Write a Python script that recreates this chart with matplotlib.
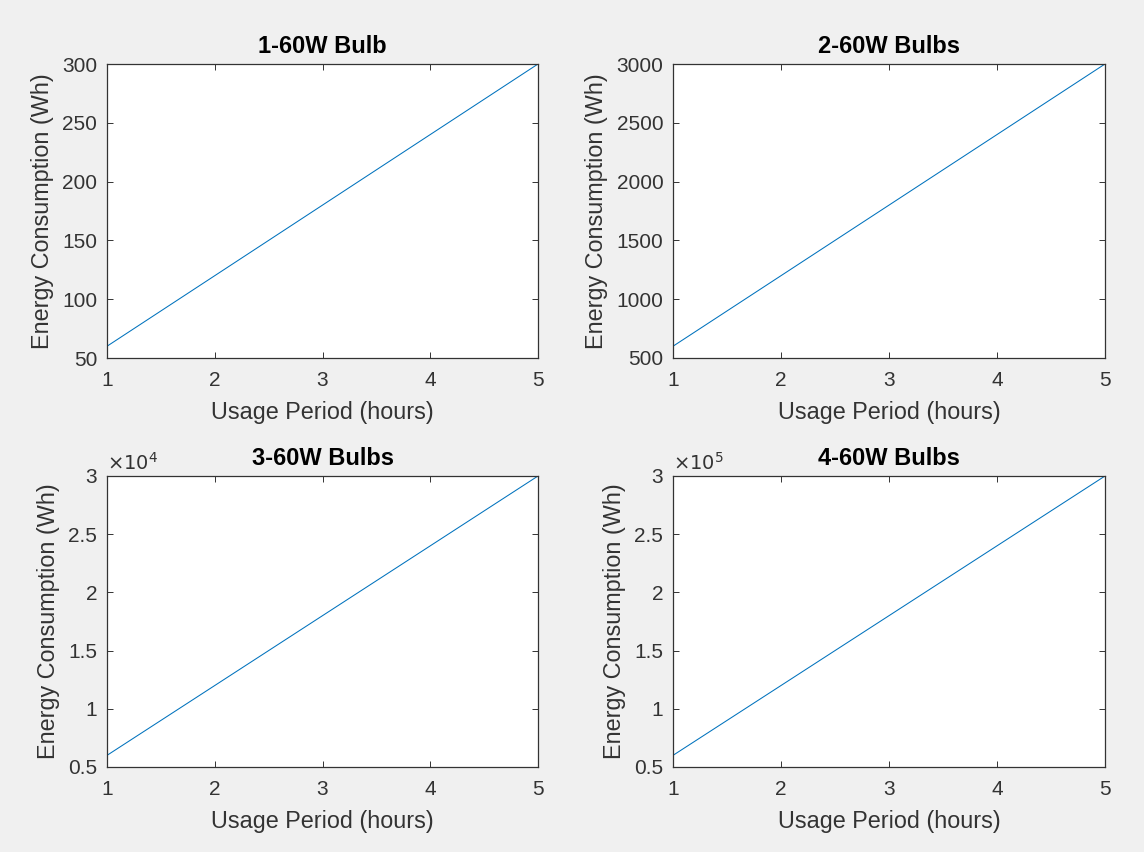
import numpy as np
import matplotlib.pyplot as plt
from matplotlib.ticker import FuncFormatter

# usage period (hours) and energy (Wh) for each panel
hours = [1, 2, 3, 4, 5]
energy_1 = [60, 120, 180, 240, 300]
energy_2 = [600, 1200, 1800, 2400, 3000]
energy_3 = [6000, 12000, 18000, 24000, 30000]
energy_4 = [60000, 120000, 180000, 240000, 300000]
titles = ['1-60W Bulb', '2-60W Bulbs', '3-60W Bulbs', '4-60W Bulbs']
exponents = [0, 0, 4, 5]
ylims = [(50, 300), (500, 3000), (5000, 30000), (50000, 300000)]

plt.rcParams['font.family'] = ['Liberation Sans', 'DejaVu Sans']
txt = '#333333'

fig = plt.figure(figsize=(11.44, 8.52), dpi=100, facecolor='#f0f0f0')
W, H = 1144, 852
boxes = [(107, 64, 538, 358), (673, 64, 1105, 358),
         (107, 476, 538, 767), (673, 476, 1105, 767)]

for i, (data, (l, t, r, b)) in enumerate(zip([energy_1, energy_2, energy_3, energy_4], boxes)):
    ax = fig.add_axes([l / W, 1 - b / H, (r - l) / W, (b - t) / H])
    ax.plot(hours, data, color='#0072BD', lw=0.75)
    ax.set_xlim(1, 5)
    ax.set_ylim(*ylims[i])
    ax.set_xticks(hours)
    lo, hi = ylims[i]
    ax.set_yticks(np.linspace(lo, hi, 6))
    e = exponents[i]
    ax.yaxis.set_major_formatter(FuncFormatter(lambda v, p, e=e: f'{v / 10**e:g}'))
    if e:
        ax.text(0.0, 1.006, r'$\times10^{%d}$' % e, transform=ax.transAxes,
                fontsize=14, color=txt, va='bottom', ha='left')
    ax.tick_params(direction='in', length=4, width=0.7, top=True, right=True,
                   labelsize=15, colors=txt)
    ax.tick_params(axis='x', pad=9.5)
    ax.tick_params(axis='y', pad=7)
    for s in ax.spines.values():
        s.set_color(txt)
        s.set_linewidth(0.9)
    ax.set_xlabel('Usage Period (hours)', fontsize=16.8, color=txt, labelpad=8)
    ax.set_ylabel('Energy Consumption (Wh)', fontsize=16.8, color=txt, labelpad=6)
    ax.set_title(titles[i], fontsize=17, fontweight='bold', color='k', pad=8)

fig.savefig('out.png', dpi=100, facecolor=fig.get_facecolor())
